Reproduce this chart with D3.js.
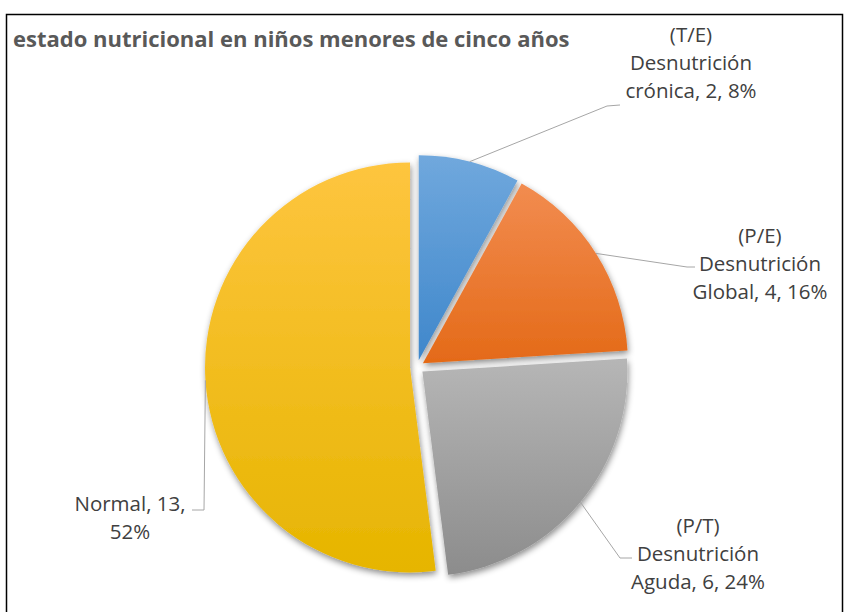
<!DOCTYPE html>
<html>
<head>
<meta charset="utf-8">
<script src="https://cdn.jsdelivr.net/npm/d3@7"></script>
<style>
  body { margin: 0; background: #fff; }
  svg text { font-family: "Open Sans", sans-serif; }
</style>
</head>
<body>
<script>
// data
var categories = ["(T/E) Desnutrición crónica", "(P/E) Desnutrición Global", "(P/T) Desnutrición Aguda", "Normal"]
var values = [2, 4, 6, 13]
var labelLines = [
  ["(T/E)", "Desnutrición", "crónica, 2, 8%"],
  ["(P/E)", "Desnutrición", "Global, 4, 16%"],
  ["(P/T)", "Desnutrición", "Aguda, 6, 24%"],
  ["Normal, 13,", "52%"]
]
var title = "estado nutricional en niños menores de cinco años"

// layout
var W = 845, H = 612
var cx = 417, cy = 367, R = 205, explode = 7
var colors = [
  ["#70a8dd", "#3f87cb"],
  ["#f28c50", "#e46a18"],
  ["#b6b6b6", "#8c8c8c"],
  ["#fec53f", "#e6b500"]
]
// label block centre (x, first line y) and elbow of leader line
var labelLayout = [
  {x: 691, y: 34, elbow: [[607, 106], [620, 105]]},
  {x: 760, y: 235, elbow: [[687, 267], [695, 267]]},
  {x: 698, y: 525, elbow: [[620, 558], [632, 558]]},
  {x: 130, y: 503, elbow: [[204, 510], [192, 510]]}
]
var lineGap = 28

var svg = d3.select('body').append('svg')
  .attr('width', W)
  .attr('height', H)

var defs = svg.append('defs')
var shadow = defs.append('filter')
  .attr('id', 'shadow')
  .attr('x', '-20%').attr('y', '-20%')
  .attr('width', '140%').attr('height', '140%')
shadow.append('feDropShadow')
  .attr('dx', 1).attr('dy', 3)
  .attr('stdDeviation', 3)
  .attr('flood-color', '#000')
  .attr('flood-opacity', 0.45)

colors.forEach(function(c, i) {
  var g = defs.append('linearGradient')
    .attr('id', 'grad' + i)
    .attr('x1', 0).attr('y1', 0)
    .attr('x2', 0).attr('y2', 1)
  g.append('stop').attr('offset', '0%').attr('stop-color', c[0])
  g.append('stop').attr('offset', '100%').attr('stop-color', c[1])
})

// frame
svg.append('rect')
  .attr('x', 6.5).attr('y', 14.5)
  .attr('width', W - 9).attr('height', H + 10)
  .attr('fill', 'none')
  .attr('stroke', '#000')
  .attr('stroke-width', 1.5)

svg.append('text')
  .attr('x', 13).attr('y', 38)
  .attr('dominant-baseline', 'central')
  .attr('font-size', 22)
  .attr('font-weight', 'bold')
  .attr('fill', '#595959')
  .text(title)

var pie = d3.pie().sort(null).value(function(d) { return d })
var arcs = pie(values)
var arc = d3.arc().innerRadius(0).outerRadius(R)

function offsetOf(d, r) {
  var a = (d.startAngle + d.endAngle) / 2
  return [Math.sin(a) * r, -Math.cos(a) * r]
}

var slices = svg.append('g')
  .attr('transform', 'translate(' + cx + ',' + cy + ')')

slices.selectAll('path')
  .data(arcs)
  .enter().append('path')
  .attr('transform', function(d) {
    var o = offsetOf(d, explode)
    return 'translate(' + o[0] + ',' + o[1] + ')'
  })
  .attr('d', arc)
  .attr('fill', function(d, i) { return 'url(#grad' + i + ')' })
  .attr('filter', 'url(#shadow)')

// leader lines
var line = d3.line()
svg.append('g').selectAll('path')
  .data(arcs)
  .enter().append('path')
  .attr('d', function(d, i) {
    var o = offsetOf(d, explode + R)
    var pts = [[cx + o[0], cy + o[1]]].concat(labelLayout[i].elbow)
    return line(pts)
  })
  .attr('fill', 'none')
  .attr('stroke', '#a6a6a6')
  .attr('stroke-width', 1)

var labels = svg.append('g').selectAll('text')
  .data(labelLines)
  .enter().append('text')
  .attr('text-anchor', 'middle')
  .attr('font-size', 20.5)
  .attr('fill', '#404040')

labels.selectAll('tspan')
  .data(function(d, i) { return d.map(function(t) { return {t: t, i: i} }) })
  .enter().append('tspan')
  .attr('x', function(d) { return labelLayout[d.i].x })
  .attr('y', function(d, j) { return labelLayout[d.i].y + j * lineGap })
  .attr('dominant-baseline', 'central')
  .text(function(d) { return d.t })
</script>
</body>
</html>
